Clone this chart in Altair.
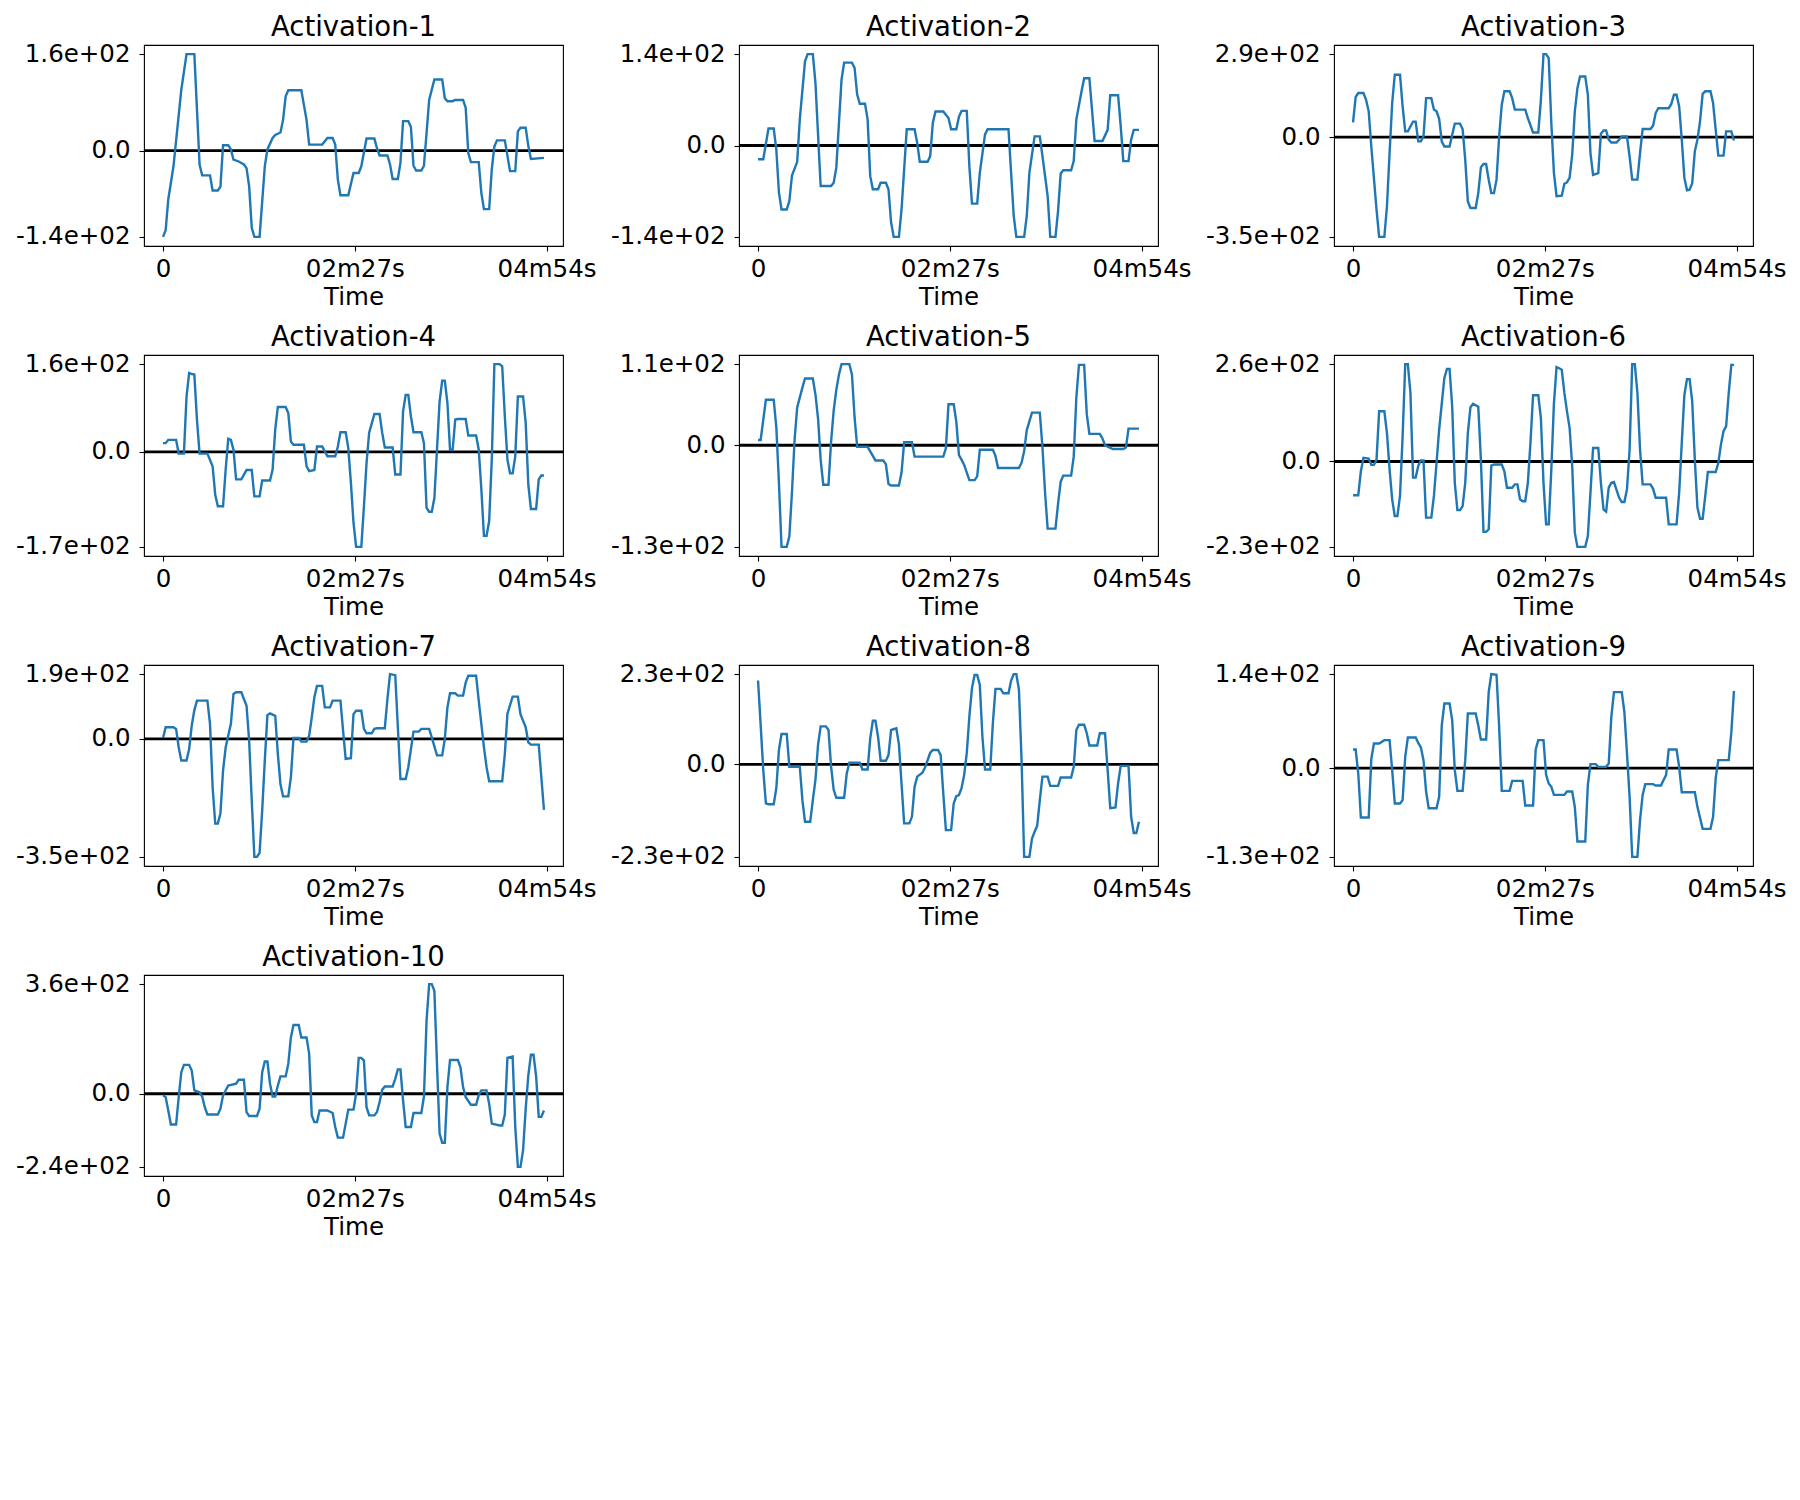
import altair as alt
import pandas as pd

# ---- x axis ticks (seconds) and labels ----
XTICKS = [0, 147, 294]
XLABELS = ["0", "02m27s", "04m54s"]
TITLES = ["Activation-%d" % i for i in range(1, 11)]

# ---- series: time (s) and activation values ----
T1 = [0,2,4,8,14,18,24,28,30,36,38,42,44,46,50,52,54,58,62,64,66,68,70,74,78,80,84,86,90,92,94,96,106,110,112,122,126,130,132,134,136,142,146,150,152,156,162,164,166,172,174,176,180,182,184,188,190,192,194,198,200,202,204,208,214,216,218,222,224,230,232,234,236,242,244,246,250,252,254,256,262,266,270,272,274,278,280,282,292]
V1 = [-143,-132,-81,-26,101,160,160,-23,-41,-41,-66,-66,-60,9,9,2,-15,-18,-23,-29,-59,-128,-143,-143,-26,2,21,26,30,51,90,100,100,51,10,10,21,21,10,-48,-74,-74,-37,-37,-26,20,20,4,-8,-8,-23,-47,-47,-20,49,49,39,-25,-33,-33,-25,29,84,118,118,87,82,82,84,84,71,-4,-19,-19,-70,-97,-97,-31,7,17,17,-34,-34,32,38,38,8,-14,-12]

T2 = [0,4,8,12,14,16,18,22,24,26,30,32,36,38,42,44,48,56,58,60,64,66,72,74,76,78,82,84,86,88,92,94,98,100,102,104,108,110,114,120,122,124,130,132,134,136,142,146,148,152,154,156,160,162,164,168,170,174,176,192,194,196,198,204,206,208,212,216,218,222,224,228,230,232,234,240,242,244,248,250,254,256,258,264,268,270,276,278,280,284,286,288,292]
V2 = [-21,-21,26,26,-6,-72,-98,-98,-85,-46,-25,40,129,140,140,96,-62,-62,-57,-34,101,127,127,119,78,64,64,40,-47,-67,-67,-57,-57,-67,-118,-140,-140,-98,25,25,4,-25,-25,-16,35,52,52,42,25,25,44,53,53,-32,-89,-89,-42,17,25,25,-42,-108,-140,-140,-108,-42,14,14,-16,-77,-140,-140,-100,-43,-38,-38,-24,40,83,103,103,55,7,7,24,77,77,30,-24,-24,9,24,24]

T3 = [0,2,4,8,10,12,14,18,20,24,26,28,30,32,36,38,40,42,44,46,48,50,52,54,56,60,62,64,66,68,70,74,76,78,82,84,86,88,90,94,96,98,100,102,104,106,108,110,112,114,116,120,122,124,132,134,138,142,144,146,148,150,152,154,156,160,162,164,166,168,170,172,174,178,180,182,184,188,190,192,194,196,198,202,206,210,212,214,218,220,222,228,230,232,234,242,244,246,248,250,252,254,256,258,260,262,264,266,268,270,274,276,278,280,284,286,290,292]
V3 = [51,140,154,154,130,90,-33,-254,-349,-349,-242,-56,119,218,218,107,20,20,37,54,54,-15,-15,2,136,136,96,90,64,-15,-33,-33,8,47,47,28,-79,-225,-248,-248,-196,-106,-94,-94,-149,-196,-196,-149,2,113,160,160,136,96,96,66,16,16,130,290,290,276,49,-126,-207,-205,-163,-158,-143,-62,90,171,212,212,148,-56,-132,-126,12,23,23,-9,-19,-19,2,2,-68,-149,-149,-56,28,28,40,84,101,101,116,148,148,107,-9,-143,-186,-184,-161,-50,-9,55,151,160,160,119,26,-65,-65,20,20,-12]

T4 = [0,2,4,10,12,16,18,20,22,24,26,28,34,38,40,42,46,48,50,52,54,56,60,64,68,70,74,76,82,84,86,88,94,96,98,100,108,110,112,116,118,122,126,132,134,136,140,142,144,146,148,152,154,156,158,162,166,168,170,176,178,182,184,186,188,190,192,198,200,202,204,206,208,210,212,214,216,218,220,222,224,226,232,234,240,242,244,246,248,250,252,254,258,260,262,264,266,268,270,272,276,278,280,282,286,288,290,292]
V4 = [16,16,22,22,-3,-3,101,144,142,141,59,-3,-3,-26,-78,-99,-99,-32,24,22,4,-50,-50,-33,-33,-81,-81,-52,-52,-32,41,82,82,71,19,13,13,-26,-35,-33,10,10,-8,-8,10,36,36,7,-56,-129,-173,-173,-99,-20,35,69,69,35,8,8,-41,-41,74,104,104,65,36,36,16,-102,-109,-109,-84,4,92,130,130,89,4,4,59,60,60,30,30,4,-68,-153,-153,-126,-14,160,160,156,65,-14,-39,-39,-8,101,101,53,-59,-104,-104,-50,-43,-43]

T5 = [0,2,6,12,14,16,18,22,24,26,28,30,34,36,42,44,46,48,50,54,56,58,60,62,64,70,72,74,76,84,86,90,96,98,100,102,108,110,112,118,120,142,144,146,150,152,154,156,158,162,166,168,170,180,182,184,200,202,204,206,210,216,218,220,222,228,230,232,234,240,242,244,246,250,252,254,262,264,266,272,280,282,284,292]
V5 = [7,7,60,60,24,-49,-134,-134,-120,-62,7,50,76,88,88,67,35,-19,-52,-52,5,46,73,93,107,107,93,37,-2,-2,-8,-20,-20,-25,-51,-53,-53,-36,4,4,-15,-15,-4,54,54,31,-13,-19,-26,-46,-46,-41,-6,-6,-14,-30,-30,-23,-8,20,43,43,-2,-62,-110,-110,-77,-48,-40,-40,-15,63,106,106,41,15,15,9,0,-5,-5,-3,22,22]

T6 = [0,4,6,8,12,14,16,18,20,24,26,28,30,32,34,36,38,40,42,44,46,48,50,52,54,56,60,62,64,66,70,72,74,76,78,80,82,84,86,88,90,92,96,98,100,102,104,106,108,114,116,118,122,124,126,128,130,132,134,136,138,142,144,146,148,150,152,154,156,158,160,162,164,166,168,170,172,178,180,182,184,188,190,192,194,196,198,200,204,206,208,210,212,214,216,218,220,222,228,230,232,240,242,248,250,252,254,256,258,260,262,264,266,268,270,272,278,280,282,284,286,288,290,292]
V6 = [-90,-90,-26,10,8,-9,-9,5,134,134,76,-21,-101,-146,-146,-92,67,260,260,183,-43,-43,-12,3,3,-150,-150,-92,-4,85,223,247,247,147,-57,-130,-130,-119,-57,76,145,154,146,5,-188,-188,-181,-11,-8,-8,-26,-70,-70,-61,-61,-101,-106,-106,-57,50,177,177,116,-57,-168,-168,-21,156,252,249,245,183,134,90,-12,-190,-228,-228,-199,-83,36,36,-57,-128,-134,-70,-57,-55,-97,-108,-108,-74,32,260,260,183,32,-61,-61,-73,-97,-97,-168,-168,-83,50,178,220,220,161,5,-123,-153,-153,-92,-28,-28,-4,45,81,94,183,258,258]

T7 = [0,2,8,10,12,14,18,20,22,24,26,34,36,38,40,42,44,46,48,52,54,56,60,62,64,66,68,70,72,74,76,78,80,82,86,88,90,92,96,98,100,104,106,110,112,114,116,118,122,124,128,130,136,138,140,144,146,148,152,154,156,160,162,164,170,172,174,178,180,182,186,188,192,196,198,204,206,210,214,216,218,220,224,226,230,232,234,240,242,244,246,248,250,260,262,264,268,272,274,276,278,280,282,288,290,292]
V7 = [3,35,35,30,-25,-64,-64,-30,40,86,114,114,45,-143,-252,-252,-221,-94,-25,45,134,139,139,119,99,-5,-183,-351,-351,-339,-213,-64,71,76,69,-45,-134,-171,-171,-114,3,3,-8,-8,10,64,124,158,158,94,94,114,114,25,-59,-57,74,84,84,30,17,17,30,32,32,119,193,190,35,-119,-119,-84,22,22,30,30,5,-49,-49,0,94,136,136,129,129,168,188,188,114,45,-25,-84,-126,-126,-45,75,126,126,74,54,35,-10,-17,-17,-114,-211]

T8 = [0,2,4,6,8,12,14,16,18,22,24,32,34,36,40,42,44,46,48,52,54,56,58,60,66,68,70,78,80,84,86,88,90,92,94,98,100,102,106,108,112,116,118,120,122,126,128,132,134,138,140,142,144,148,150,152,154,156,158,160,162,164,166,168,170,172,174,178,180,182,186,188,192,194,196,198,200,202,204,208,210,212,214,216,218,222,224,230,232,240,242,244,246,250,252,254,260,262,266,268,270,274,276,278,284,286,288,290,292]
V8 = [210,99,-14,-98,-100,-100,-60,36,76,76,-6,-6,-90,-144,-144,-90,-39,49,95,95,86,-6,-64,-84,-84,-23,4,4,-13,-13,65,109,109,69,9,9,23,86,90,50,-148,-148,-131,-56,-31,-21,-8,29,36,36,23,-73,-165,-165,-98,-80,-77,-60,-27,28,120,191,224,224,199,69,-13,-13,103,189,189,178,178,210,226,226,187,11,-232,-232,-186,-169,-154,-90,-31,-31,-54,-54,-33,-33,-6,86,99,99,78,47,47,78,78,-14,-110,-108,-48,-4,-4,-131,-172,-172,-144]

T9 = [0,2,4,6,12,14,16,20,24,28,30,32,36,38,40,42,48,50,52,54,56,58,64,66,68,70,74,76,78,80,84,86,88,94,96,98,102,104,106,110,112,114,120,122,130,132,138,140,142,146,148,150,152,154,162,164,168,170,172,178,180,182,186,188,194,196,198,200,206,208,210,212,214,218,220,222,224,230,232,236,240,242,248,250,252,262,264,268,274,276,278,280,288,290,292]
V9 = [28,28,-8,-74,-74,14,37,37,42,42,-3,-53,-53,-48,17,46,46,38,31,12,-35,-60,-60,-43,64,97,97,72,-3,-34,-34,12,82,82,64,43,43,114,141,140,62,-34,-34,-19,-19,-56,-56,28,42,42,-10,-23,-28,-40,-40,-35,-35,-58,-110,-110,-25,6,6,2,2,7,77,114,114,84,22,-43,-133,-133,-78,-40,-24,-24,-26,-26,-10,28,28,2,-36,-36,-58,-91,-91,-73,-15,12,12,54,116]

T10 = [0,2,4,6,10,12,14,16,20,22,24,28,30,32,34,42,44,46,50,56,58,62,64,66,72,74,76,78,80,82,84,86,88,90,94,96,98,100,104,106,110,112,114,116,118,120,126,130,132,134,138,140,142,146,148,150,152,154,156,158,162,164,166,168,170,176,178,180,182,184,186,190,192,198,200,202,204,206,208,210,212,214,216,218,220,226,228,230,232,236,240,242,244,248,250,252,258,260,262,264,268,270,272,274,276,278,280,282,284,286,288,290,292]
V10 = [-5,-11,-55,-101,-101,-11,71,95,95,76,11,5,-9,-44,-68,-68,-49,-5,27,33,46,46,-60,-73,-73,-49,71,106,106,33,-9,-9,27,57,57,98,185,226,226,185,185,131,-71,-93,-93,-55,-55,-63,-109,-144,-144,-98,-52,-52,0,118,118,109,-44,-71,-71,-60,-27,13,24,24,49,80,80,-22,-109,-109,-63,-63,-9,240,360,360,338,98,-131,-161,-161,22,111,111,87,22,-11,-36,-36,-5,11,11,-33,-98,-104,-104,-68,118,122,-109,-240,-240,-185,-49,60,128,128,57,-76,-76,-55]

SERIES = [(T1, V1), (T2, V2), (T3, V3), (T4, V4), (T5, V5),
          (T6, V6), (T7, V7), (T8, V8), (T9, V9), (T10, V10)]

FONT = "DejaVu Sans"
BLUE = "#1f77b4"
W, H = 419, 201

xexpr = "datum.value == %d ? '%s' : (datum.value == %d ? '%s' : '%s')" % (
    XTICKS[0], XLABELS[0], XTICKS[1], XLABELS[1], XLABELS[2])


def panel(title, T, V):
    df = pd.DataFrame({"t": T, "v": V})
    tmin, tmax = min(T), max(T)
    tspan = tmax - tmin
    xdom = [tmin - 0.05 * tspan, tmax + 0.05 * tspan]
    vmin, vmax = min(V), max(V)
    span = vmax - vmin
    ydom = [vmin - 0.05 * span, vmax + 0.05 * span]
    lab_max = "%.1e" % vmax
    lab_min = "%.1e" % vmin
    yexpr = "datum.value > 0 ? '%s' : (datum.value < 0 ? '%s' : '0.0')" % (lab_max, lab_min)

    line = alt.Chart(df).mark_line(color=BLUE, strokeWidth=2.4, interpolate="linear").encode(
        x=alt.X("t:Q", scale=alt.Scale(domain=xdom, nice=False, zero=False),
                axis=alt.Axis(values=XTICKS, labelExpr=xexpr, title="Time")),
        y=alt.Y("v:Q", scale=alt.Scale(domain=ydom, nice=False, zero=False),
                axis=alt.Axis(values=[vmin, 0, vmax], labelExpr=yexpr, title=None)),
    )
    zero = alt.Chart(pd.DataFrame({"z": [0]})).mark_rule(color="black", strokeWidth=2.8).encode(
        y=alt.datum(0)
    )
    return alt.layer(zero, line).properties(
        width=W, height=H,
        title=alt.TitleParams(title, fontSize=27.5, font=FONT, fontWeight="normal",
                              color="black", anchor="middle", frame="group",
                              offset=-22, baseline="alphabetic"),
    )


panels = [panel(TITLES[i], T, V) for i, (T, V) in enumerate(SERIES)]

chart = alt.concat(*panels, columns=3, spacing={"row": 109, "column": 176}, bounds="flush").properties(
    padding={"left": 6, "top": 5, "right": 5, "bottom": 5},
    background="white",
).configure_axis(
    domain=False, grid=False,
    labelFont=FONT, labelFontSize=24.5, labelColor="black",
    titleFont=FONT, titleFontSize=24.5, titleFontWeight="normal", titleColor="black",
    tickColor="black", tickSize=5, tickWidth=1.1,
    labelFlush=False, labelOverlap=False,
).configure_axisX(
    labelPadding=6, titlePadding=5,
).configure_axisY(
    labelPadding=9,
).configure_view(
    stroke="black", strokeWidth=1.1,
)

chart.save("out.html", embed_options={"renderer": "svg", "actions": False})
